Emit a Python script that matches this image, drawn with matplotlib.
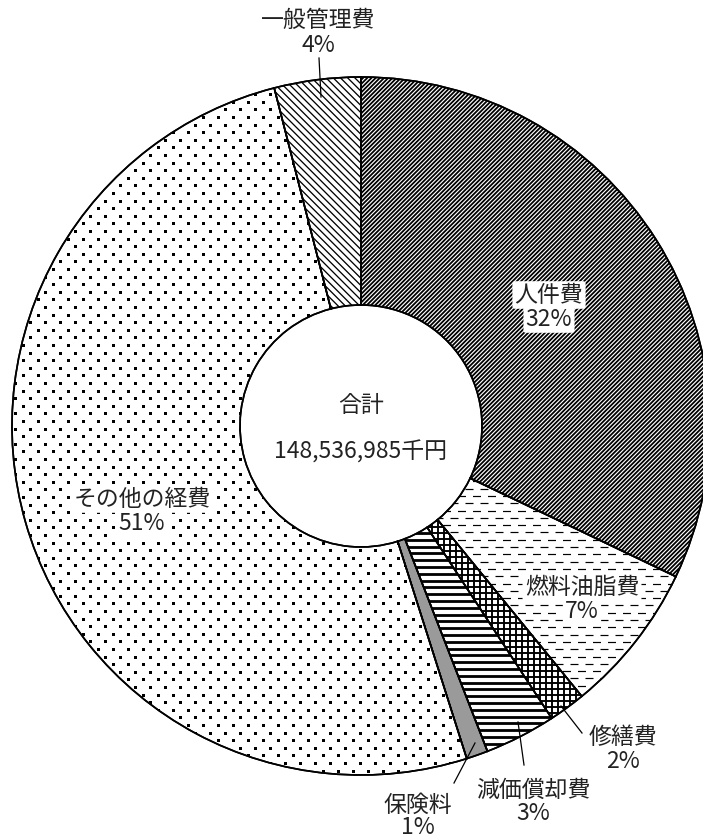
import numpy as np
import matplotlib
matplotlib.use("Agg")
import matplotlib.pyplot as plt
from matplotlib.collections import LineCollection
from matplotlib.patches import Wedge

plt.rcParams['font.family'] = ['Noto Sans CJK JP', 'DejaVu Sans']
plt.rcParams['lines.scale_dashes'] = False

# ---- data ----
categories = ['人件費', '燃料油脂費', '修繕費', '減価償却費', '保険料', 'その他の経費', '一般管理費']
shares = [32.1, 7.0, 1.7, 3.3, 1.0, 50.9, 4.0]
pct_labels = ['32%', '7%', '2%', '3%', '1%', '51%', '4%']
total_title = '合計'
total_value = '148,536,985千円'

W, H = 703, 839
PX = 72 / 100  # points per pixel at dpi 100
fig = plt.figure(figsize=(W / 100, H / 100), dpi=100)
ax = fig.add_axes([0, 0, 1, 1])

cx, cy = 361, H - 426
R, r_in = 349, 121

wedges, _ = ax.pie(shares, startangle=90, counterclock=False, radius=R,
                   center=(cx, cy), colors=['white'] * len(shares),
                   wedgeprops=dict(width=R - r_in, edgecolor='black', linewidth=1.2))
ax.set_xlim(0, W)
ax.set_ylim(0, H)
ax.set_aspect('equal')
ax.axis('off')

wmap = dict(zip(categories, wedges))
wmap['保険料'].set_facecolor('#9a9a9a')


def add_lines(segs, wedge, lw_px, **kw):
    lc = LineCollection(segs, colors='black', linewidths=lw_px * PX, zorder=2, **kw)
    ax.add_collection(lc)
    lc.set_clip_path(wedge)
    return lc


# 人件費: dense "/" lines
step = 4.2
segs = [[(x0, 0), (x0 + H, H)] for x0 in np.arange(-H, W, step)]
add_lines(segs, wmap['人件費'], 1.8)

# 一般管理費: "\" lines
step = 7.2
segs = [[(x0, 0), (x0 - H, H)] for x0 in np.arange(0, W + H, step)]
add_lines(segs, wmap['一般管理費'], 1.3)

# 修繕費: cross-hatch
step = 6.0
segs = [[(0, y), (W, y)] for y in np.arange(0, H, step)]
segs += [[(x, 0), (x, H)] for x in np.arange(0, W, step)]
add_lines(segs, wmap['修繕費'], 1.9)

# 減価償却費: thick horizontal lines
step = 6.8
segs = [[(0, y), (W, y)] for y in np.arange(0, H, step)]
add_lines(segs, wmap['減価償却費'], 2.8)

# 燃料油脂費: dashed horizontal lines, alternating offsets
step = 7.3
ys = np.arange(0, H, step)
for k, off in enumerate((0, 7.5)):
    segs = [[(0, y), (W, y)] for y in ys[k::2]]
    add_lines(segs, wmap['燃料油脂費'], 1.2,
              linestyles=[(off * PX, (8 * PX, 7 * PX))])

# その他の経費: staggered square dots
ys = np.arange(0, H, 7.6)
pts_x, pts_y = [], []
for i, y in enumerate(ys):
    off = 0 if i % 2 == 0 else 7.5
    xs = np.arange(off, W, 15.0)
    pts_x.extend(xs)
    pts_y.extend([y] * len(xs))
sc = ax.scatter(pts_x, pts_y, marker='s', s=(3.0 * PX) ** 2, c='black', linewidths=0, zorder=2)
sc.set_clip_path(wmap['その他の経費'])

# redraw wedge outlines on top
for w in wedges:
    ax.add_patch(Wedge(w.center, w.r, w.theta1, w.theta2, width=w.width,
                       fill=False, edgecolor='black', linewidth=1.2, zorder=3))

# center hole text
txt_kw = dict(ha='center', va='center', fontsize=16.5, color='#222222', zorder=5)
ax.text(cx, H - 405, total_title, **txt_kw)
ax.text(cx, H - 452, total_value, **txt_kw)

# labels (pixel layout: x, y of name, y of percent, white box)
label_pos = {
    '人件費': (549, 295, 319, True),
    '燃料油脂費': (582, 587, 611, True),
    '修繕費': (623, 738, 761, False),
    '減価償却費': (533, 790, 813, False),
    '保険料': (418, 805, 828, False),
    'その他の経費': (142, 499, 524, True),
    '一般管理費': (318, 20, 45, False),
}
for c, p in zip(categories, pct_labels):
    x, y1, y2, box = label_pos[c]
    kw = dict(txt_kw)
    if box:
        kw['bbox'] = dict(boxstyle='round,pad=0.1', fc='white', ec='none')
    ax.text(x, H - y1, c, **kw)
    ax.text(x, H - y2, p, **kw)

# leader lines
leaders = {
    '一般管理費': ((319, 58), (321, 97)),
    '修繕費': ((582, 733), (561, 706)),
    '減価償却費': ((524, 765), (518, 722)),
    '保険料': ((454, 783), (475, 743)),
}
for c, ((x1, y1), (x2, y2)) in leaders.items():
    ax.plot([x1, x2], [H - y1, H - y2], color='black', lw=0.9, zorder=4)

fig.savefig('out.png', dpi=100, facecolor='white')
